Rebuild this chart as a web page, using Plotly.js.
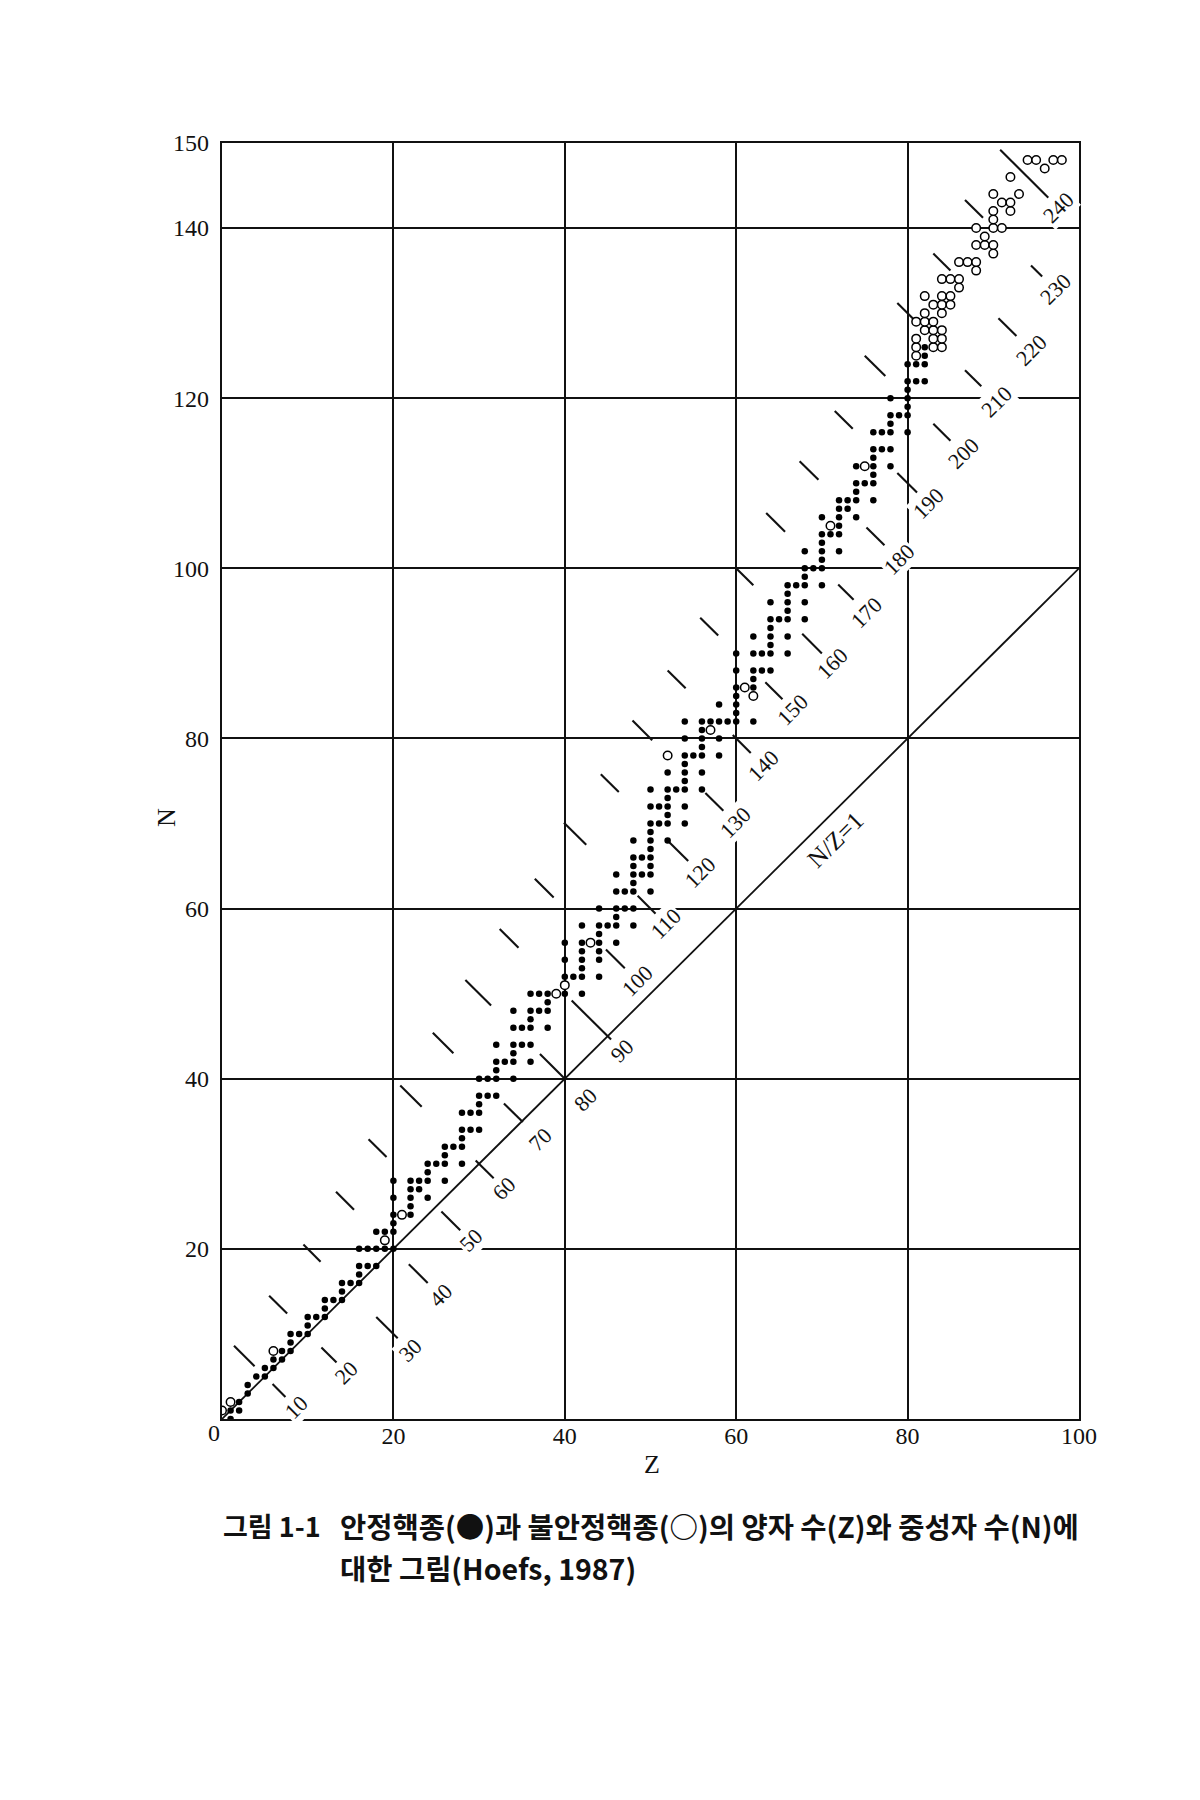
<!DOCTYPE html>
<html><head><meta charset="utf-8">
<script src="https://cdn.plot.ly/plotly-3.0.1.min.js"></script>
<style>html,body{margin:0;padding:0;background:#fff;} #chart{width:1200px;height:1800px;}</style>
</head><body><div id="chart"></div>
<script>
// Stable nuclides: [Z, N1, N2, ...]
const stableIsotopes = [
 [1,0,1],[2,1,2],[3,3,4],[4,5],[5,5,6],[6,6,7],[7,7,8],[8,8,9,10],[9,10],[10,10,11,12],
 [11,12],[12,12,13,14],[13,14],[14,14,15,16],[15,16],[16,16,17,18,20],[17,18,20],[18,18,20,22],
 [19,20,22],[20,20,22,23,24,26,28],[22,24,25,26,27,28],[23,27,28],[24,26,28,29,30],[25,30],
 [26,28,30,31,32],[27,32],[28,30,32,33,34,36],[29,34,36],[30,34,36,37,38,40],[31,38,40],
 [32,38,40,41,42,44],[33,42],[34,40,42,43,44,46,48],[35,44,46],[36,42,44,46,47,48,50],[37,48,50],
 [38,46,48,49,50],[40,50,52,54,56],[41,52],[42,50,52,53,54,55,56,58],[44,52,54,55,56,57,58,60],
 [45,58],[46,56,58,59,60,62,64],[47,60,62],[48,58,60,62,63,64,65,66,68],[49,64,66],
 [50,62,64,65,66,67,68,69,70,72,74],[51,70,72],[52,68,70,71,72,73,74,76],[53,74],
 [54,70,72,74,75,76,77,78,80,82],[55,78],[56,74,76,78,79,80,81,82],[57,82],[58,78,80,82,84],
 [59,82],[60,82,83,84,85,86,88,90],[62,82,86,87,88,90,92],[63,88,90],[64,88,90,91,92,93,94,96],
 [65,94],[66,90,92,94,95,96,97,98],[67,98],[68,94,96,98,99,100,102],[69,100],
 [70,98,100,101,102,103,104,106],[71,104],[72,102,104,105,106,107,108],[73,107,108],
 [74,106,108,109,110,112],[75,110],[76,108,110,111,112,113,114,116],[77,114,116],
 [78,112,114,116,117,118,120],[79,118],[80,116,118,119,120,121,122,124],[81,122,124],
 [82,122,124,125,126]
];
// Unstable nuclides (open circles)
const unstableZ = [0,1,6,19,21,39,40,43,52,57,61,62,71,75,
 81,81,81,81, 82,82,82,82, 83,83,83,83,83, 84,84,84,84,84,84,84, 85,85,85, 86,86,86, 87,
 88,88,88,88, 89,89, 90,90,90,90,90,90, 91,91, 92,92,92, 93, 94,95,96,97,98];
const unstableN = [1,2,8,21,24,50,51,56,78,81,86,85,105,112,
 125,126,127,129, 128,129,130,132, 126,127,128,129,131, 126,127,128,130,131,132,134, 131,132,134, 133,134,136, 136,
 135,136,138,140, 138,139, 137,138,140,141,142,144, 140,143, 142,143,146, 144, 148,148,147,148,148];

// Isobars (A = Z + N)
const isobarA = [10,20,30,40,50,60,70,80,90,100,110,120,130,140,150,160,170,180,190,200,210,220,230,240];
const isobarLabels = isobarA.map(String);
// Z extents of the short isobar marks and label anchors
const upperMarkZ = [[1.4,3.8],[5.5,7.6],[9.5,11.5],[13.3,15.4],[17.1,19.2],[20.8,23.3],[24.6,27.0],[28.4,31.4],
 [32.4,34.6],[36.5,38.7],[39.9,42.5],[44.2,46.3],[47.9,50.2],[52.0,54.1],[55.8,57.9],[59.9,62.0],[63.5,65.7],
 [67.4,69.6],[71.5,73.6],[75.0,77.4],[78.8,81.0],[83.0,85.0],[86.7,88.8],null];
const lowerMarkZ = [[5.9,7.4],[11.6,13.4],[18.0,20.5],[21.8,24.0],[25.6,27.8],[29.6,31.7],[32.9,35.1],[37.1,40.0],
 [40.8,45.4],[44.8,47.0],[48.5,50.6],[52.1,54.4],[56.4,58.5],[59.6,61.7],[63.4,65.4],[67.7,70.0],[71.9,73.7],
 [75.2,77.3],[78.8,81.1],[83.0,85.0],[86.7,88.6],[90.6,92.7],[94.4,95.7],[90.8,96.6]];
const labelZ = [8.6,14.5,21.9,25.5,29.0,32.9,37.1,42.4,46.7,48.5,51.8,55.8,59.9,63.2,66.6,71.2,75.2,79.0,82.4,86.5,90.4,94.4,97.2,97.6];

const xTickVals = [20,40,60,80,100];
const yTickVals = [20,40,60,80,100,120,140,150];

const sZ = [], sN = [];
stableIsotopes.forEach(r => { r.slice(1).forEach(n => { sZ.push(r[0]); sN.push(n); }); });

const segX = [], segY = [];
isobarA.forEach((A, i) => {
  [upperMarkZ[i], lowerMarkZ[i]].forEach(s => {
    if (!s) return;
    segX.push(s[0], s[1], null);
    segY.push(A - s[0], A - s[1], null);
  });
});

const ink = '#111';
const traces = [
  {x:[0,100], y:[0,100], mode:'lines', line:{color:ink, width:1.8}, hoverinfo:'skip'},
  {x:segX, y:segY, mode:'lines', line:{color:ink, width:2.1}, hoverinfo:'skip', connectgaps:false},
  {x:sZ, y:sN, mode:'markers', marker:{symbol:'circle', size:6.5, color:'#000'}},
  {x:unstableZ, y:unstableN, mode:'markers', marker:{symbol:'circle', size:8.5, color:'#fff', line:{color:'#000', width:1.5}}}
];

const serif = 'Liberation Serif, Times New Roman, serif';
const annotations = isobarA.map((A, i) => ({
  x: labelZ[i], y: A - labelZ[i], xref:'x', yref:'y', text: isobarLabels[i], showarrow:false,
  textangle:-45, font:{family:serif, size:22, color:ink}, bgcolor:'#fff', borderpad:1
}));
annotations.push({x:71.6, y:68.1, xref:'x', yref:'y', text:'N/Z=1', showarrow:false, textangle:-44.7,
  font:{family:serif, size:25, color:ink}});
annotations.push({x:-0.0098, y:-0.011, xref:'paper', yref:'paper', text:'0', showarrow:false,
  xanchor:'center', yanchor:'middle', font:{family:serif, size:24, color:ink}});
annotations.push({x:0.5015, y:-0.0353, xref:'paper', yref:'paper', text:'Z', showarrow:false,
  xanchor:'center', yanchor:'middle', font:{family:serif, size:26, color:ink}});
annotations.push({x:-0.0647, y:0.4715, xref:'paper', yref:'paper', text:'N', showarrow:false, textangle:-90,
  xanchor:'center', yanchor:'middle', font:{family:serif, size:26, color:ink}});
const cjk = 'Noto Sans CJK KR, sans-serif';
annotations.push({x:-0.0017, y:-0.0831, xref:'paper', yref:'paper', text:'그림 1-1', showarrow:false,
  xanchor:'left', yanchor:'middle', font:{family:cjk, size:27, color:ink, weight:'bold'}});
annotations.push({x:0.1348, y:-0.0831, xref:'paper', yref:'paper', text:'안정핵종(●)과 불안정핵종(○)의 양자 수(Z)와 중성자 수(N)에',
  showarrow:false, xanchor:'left', yanchor:'middle', font:{family:cjk, size:28.5, color:ink, weight:'bold'}});
annotations.push({x:0.1348, y:-0.1164, xref:'paper', yref:'paper', text:'대한 그림(Hoefs, 1987)',
  showarrow:false, xanchor:'left', yanchor:'middle', font:{family:cjk, size:28.5, color:ink, weight:'bold'}});

const layout = {
  width:1200, height:1800, autosize:false,
  margin:{l:222, r:121, t:143, b:381, pad:0},
  paper_bgcolor:'#fff', plot_bgcolor:'#fff', showlegend:false,
  xaxis:{range:[0,100], tickvals:xTickVals, ticktext:xTickVals.map(String), showgrid:true, gridcolor:ink, gridwidth:2,
    zeroline:false, showline:true, mirror:true, linecolor:ink, linewidth:2.2, ticks:'', ticklabelstandoff:-6,
    tickfont:{family:serif, size:24, color:ink}, fixedrange:true},
  yaxis:{range:[0,150], tickvals:yTickVals, ticktext:yTickVals.map(String), showgrid:true, gridcolor:ink, gridwidth:2,
    zeroline:false, showline:true, mirror:true, linecolor:ink, linewidth:2.2, ticks:'', ticklabelstandoff:6,
    tickfont:{family:serif, size:24, color:ink}, fixedrange:true},
  annotations: annotations
};
Plotly.newPlot('chart', traces, layout, {staticPlot:true, displayModeBar:false});
</script></body></html>
